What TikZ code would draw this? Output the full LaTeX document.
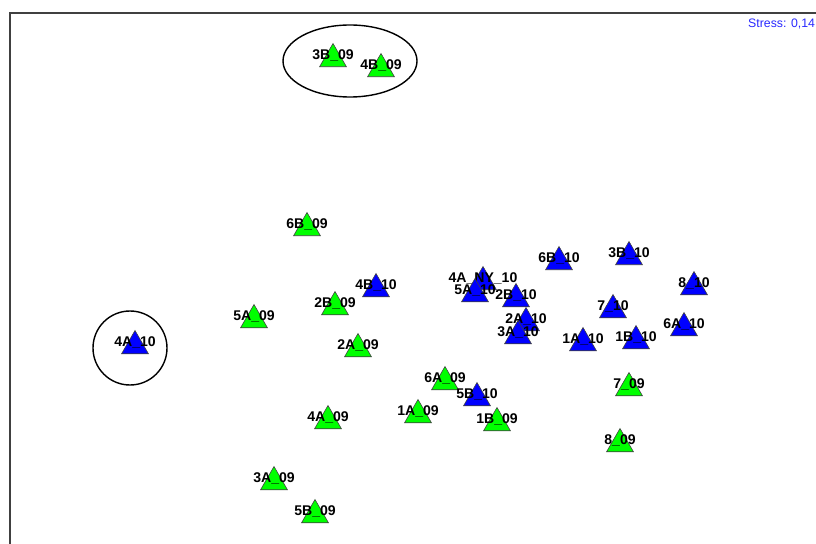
\documentclass[tikz,border=0pt]{standalone}
\usepackage{fontspec}
\setmainfont{Liberation Sans}
\usetikzlibrary{shapes.geometric}
\definecolor{green09}{RGB}{0,255,0}
\definecolor{blue10}{RGB}{0,0,255}
\definecolor{stressblue}{RGB}{40,40,255}
\tikzset{
  site/.style={regular polygon, regular polygon sides=3, draw=black!75, line width=0.5pt, minimum size=0.93cm, inner sep=0pt},
  s09/.style={site, fill=green09},
  s10/.style={site, fill=blue10},
  sitelab/.style={font=\fontsize{12}{12}\selectfont\bfseries, inner sep=0pt},
  ring/.style={line width=1.2pt}
}
\begin{document}
\begin{tikzpicture}[x=0.03cm, y=-0.03cm]
  \useasboundingbox (0,0) rectangle (816,544);
  \draw[black!75, line width=1pt] (816,13) -- (10,13) -- (10,544);
  \node[anchor=west, text=stressblue, font=\fontsize{10.5}{12}\selectfont, inner sep=0pt] (stress) at (748,24) {Stress: 0,14};

  % grouped samples
  \draw[ring] (350,61) ellipse (2.01cm and 1.08cm);
  \draw[ring] (130,348) circle (1.11cm);

  % 2009 samples
  \foreach \n/\x/\y/\t in {g3B/333/55/3B\_09, g4B/381/65/4B\_09, g6B/307/224/6B\_09,
      g5A/254/316/5A\_09, g2B/335/303/2B\_09, g2A/358/345/2A\_09, g4A/328/417/4A\_09,
      g3A/274/478/3A\_09, g5B/315/511/5B\_09, g6A/445/378/6A\_09, g1A/418/411/1A\_09,
      g1B/497/419/1B\_09, g7/629/384/7\_09, g8/620/440/8\_09} {
    \node[s09] (t\n) at (\x,\y+4) {};
    \node[sitelab] (l\n) at (\x,\y) {\t};
  }

  % 2010 samples
  \foreach \n/\x/\y/\t in {b4A/135/342/4A\_10, b4B/376/285/4B\_10, b6B/559/258/6B\_10,
      b3B/629/253/3B\_10, b8/694/283/8\_10, b4ANY/483/278/4A\_NY\_10, b5A/475/290/5A\_10,
      b2B/516/295/2B\_10, b2A/526/319/2A\_10, b3A/518/332/3A\_10, b7/613/306/7\_10,
      b1A/583/339/1A\_10, b1B/636/337/1B\_10, b6A/684/324/6A\_10, b5B/477/394/5B\_10} {
    \node[s10] (t\n) at (\x,\y+4) {};
    \node[sitelab] (l\n) at (\x,\y) {\t};
  }
\end{tikzpicture}
\end{document}
